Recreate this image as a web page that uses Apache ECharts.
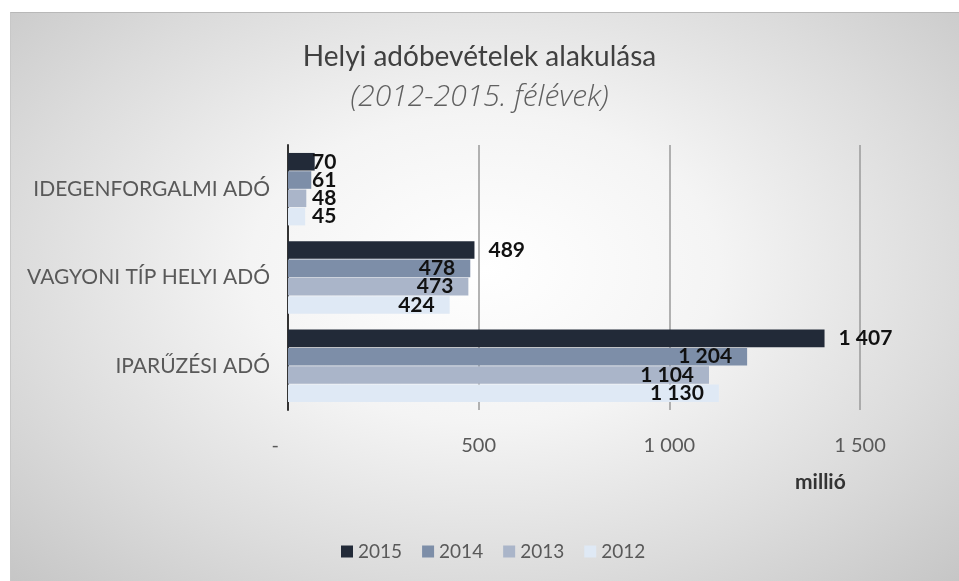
<!DOCTYPE html>
<html>
<head>
<meta charset="utf-8">
<script src="https://cdn.jsdelivr.net/npm/echarts@6/dist/echarts.min.js"></script>
<style>
  html, body { margin: 0; padding: 0; background: #ffffff; }
  #frame { position: absolute; left: 10px; top: 12px; width: 949px; height: 569px;
           background: radial-gradient(ellipse at 50% 45%, #ffffff 0%, #f4f4f4 35%, #dcdcdc 70%, #c6c6c6 100%);
           border-top: 1px solid #b8b8b8; border-left: 1px solid #c8c8c8; box-sizing: border-box; }
  #chart { position: absolute; left: 0; top: 0; width: 959px; height: 581px; }
</style>
</head>
<body>
<div id="frame"></div>
<div id="chart"></div>
<script>
const categories = ['IDEGENFORGALMI ADÓ', 'VAGYONI TÍP HELYI ADÓ', 'IPARŰZÉSI ADÓ'];
const seriesNames = ['2015', '2014', '2013', '2012'];
const values2015 = [70, 489, 1407];
const values2014 = [61, 478, 1204];
const values2013 = [48, 473, 1104];
const values2012 = [45, 424, 1130];
const xTicks = [0, 500, 1000, 1500];
const colors = ['#222a38', '#7d8ea8', '#aab5c9', '#dfe9f5'];

const fmt = v => String(v).replace(/\B(?=(\d{3})+(?!\d))/g, ' ');
const allValues = [values2015, values2014, values2013, values2012];

const chart = echarts.init(document.getElementById('chart'), null, { renderer: 'canvas' });

const series = seriesNames.map((name, i) => ({
  name,
  type: 'bar',
  barGap: '4%',
  barCategoryGap: '18%',
  itemStyle: { color: colors[i] },
  label: {
    show: true,
    position: i === 0 ? 'right' : 'insideRight',
    distance: i === 0 ? 14 : 15,
    formatter: p => fmt(p.value),
    color: '#111',
    fontFamily: 'Lato',
    fontWeight: 'bold',
    fontSize: 21
  },
  data: allValues[i].map(v => v < 100
    ? { value: v, label: { position: 'insideLeft', distance: 24 } }
    : v)
}));

chart.setOption({
  backgroundColor: 'transparent',
  animation: false,
  color: colors,
  title: [
    { text: 'Helyi adóbevételek alakulása', left: 'center', top: 38,
      textStyle: { fontFamily: 'Lato', fontWeight: 'normal', fontSize: 28, color: '#404040' } },
    { text: '(2012-2015. félévek)', left: 'center', top: 77,
      textStyle: { fontFamily: 'Open Sans', fontStyle: 'italic', fontWeight: 300, fontSize: 30, color: '#606060' } }
  ],
  legend: {
    bottom: 15, left: 336,
    itemWidth: 12, itemHeight: 12, itemGap: 20,
    icon: 'rect',
    data: seriesNames,
    textStyle: { fontFamily: 'Lato', fontSize: 19, color: '#595959' }
  },
  grid: { left: 288, right: 99, top: 145, bottom: 171, containLabel: false },
  xAxis: {
    type: 'value', min: 0, max: 1500, interval: 500,
    axisLine: { show: false },
    axisTick: { show: false },
    splitLine: { show: true, lineStyle: { color: '#9a9a9a', width: 1.5 } },
    axisLabel: {
      margin: 26, fontFamily: 'Lato', fontSize: 20, color: '#595959',
      formatter: v => v === 0 ? '-     ' : fmt(v)
    }
  },
  yAxis: {
    type: 'category', inverse: true, data: categories,
    axisLine: { show: true, lineStyle: { color: '#333', width: 2 } },
    axisTick: { show: false },
    axisLabel: { margin: 18, fontFamily: 'Lato', fontSize: 21, color: '#595959' }
  },
  graphic: [
    { type: 'text', left: 795, top: 472,
      style: { text: 'millió', fontFamily: 'Lato', fontWeight: 'bold', fontSize: 21, fill: '#333' } }
  ],
  series
});
</script>
</body>
</html>
